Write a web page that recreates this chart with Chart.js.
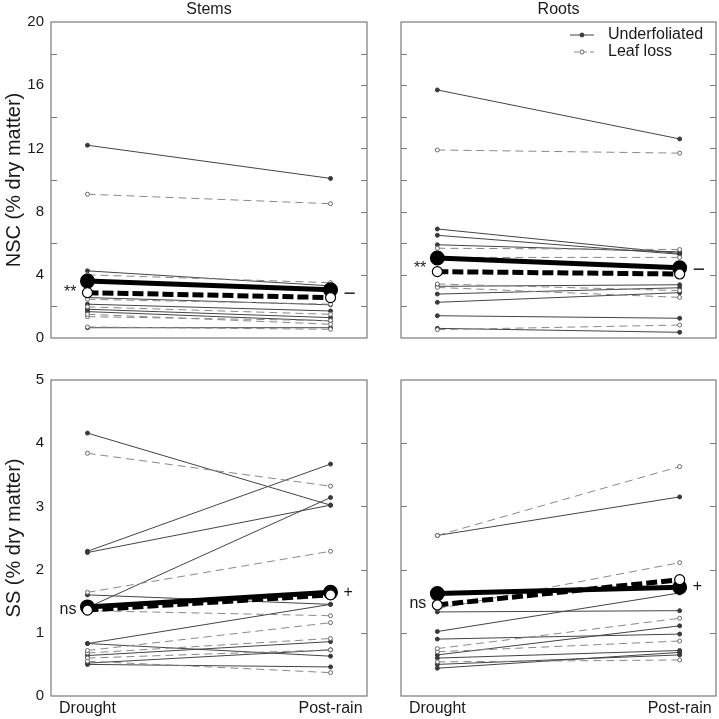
<!DOCTYPE html>
<html>
<head>
<meta charset="utf-8">
<script src="https://cdn.jsdelivr.net/npm/chart.js@4.4.1/dist/chart.umd.min.js"></script>
<style>
html, body { margin: 0; padding: 0; background: #fff; }
body { width: 719px; height: 719px; position: relative; overflow: hidden; }
.panel { position: absolute; }
</style>
</head>
<body>

<div class="panel" style="left:0;top:0;width:372px;height:346px"><canvas id="stemsNsc"></canvas></div>
<div class="panel" style="left:380px;top:0;width:339px;height:346px"><canvas id="rootsNsc"></canvas></div>
<div class="panel" style="left:0;top:360px;width:372px;height:359px"><canvas id="stemsSs"></canvas></div>
<div class="panel" style="left:380px;top:360px;width:339px;height:359px"><canvas id="rootsSs"></canvas></div>

<script>

const xValues = [1, 2];
const xLabels = ["Drought", "Post-rain"];
const legendLabels = ["Underfoliated", "Leaf loss"];

const nscTicks = [0, 4, 8, 12, 16, 20];
const ssTicks = [0, 1, 2, 3, 4, 5];

// stems, NSC (% dry matter) - one [drought, post-rain] pair per tree
const stemsNscUnder = [[12.2, 10.1], [4.25, 3.3], [2.56, 2.1], [2.14, 1.71], [1.82, 1.29], [1.67, 1.08], [0.65, 0.65]];
const stemsNscLoss = [[9.1, 8.5], [4.0, 3.5], [2.45, 2.14], [1.97, 1.5], [1.5, 0.87], [1.35, 1.1], [0.7, 0.55]];
const stemsNscMeanUnder = [3.6, 3.05];
const stemsNscMeanLoss = [2.87, 2.56];

// roots, NSC
const rootsNscUnder = [[15.7, 12.6], [6.9, 5.35], [6.5, 5.3], [5.9, 5.45], [3.27, 3.37], [2.78, 3.18], [2.26, 2.87], [1.41, 1.25], [0.61, 0.36]];
const rootsNscLoss = [[11.9, 11.7], [5.68, 5.6], [5.1, 5.1], [3.42, 3.0], [3.2, 2.57], [0.53, 0.82]];
const rootsNscMeanUnder = [5.06, 4.45];
const rootsNscMeanLoss = [4.2, 4.05];

// stems, SS
const stemsSsUnder = [[4.16, 3.02], [2.29, 3.67], [2.27, 3.02], [1.4, 3.14], [1.6, 1.45], [0.83, 1.45], [0.83, 0.63], [0.64, 0.86], [0.52, 0.73], [0.5, 0.46]];
const stemsSsLoss = [[3.84, 3.32], [1.64, 2.29], [1.35, 1.27], [0.72, 1.16], [0.68, 0.91], [0.55, 0.37], [0.6, 0.73]];
const stemsSsMeanUnder = [1.41, 1.64];
const stemsSsMeanLoss = [1.36, 1.6];

// roots, SS
const rootsSsUnder = [[2.54, 3.15], [1.33, 1.35], [1.02, 1.63], [0.9, 0.98], [0.65, 1.11], [0.6, 0.72], [0.5, 0.65], [0.44, 0.69]];
const rootsSsLoss = [[2.54, 3.63], [1.38, 2.11], [0.75, 1.23], [0.7, 0.87], [0.54, 0.57]];
const rootsSsMeanUnder = [1.62, 1.72];
const rootsSsMeanLoss = [1.44, 1.84];

// significance labels: [drought side, post-rain side]
const stemsNscSig = ["**", "\u2212"];
const rootsNscSig = ["**", "\u2212"];
const stemsSsSig = ["ns", "+"];
const rootsSsSig = ["ns", "+"];


const fontFamily = "'Liberation Sans', Arial, Helvetica, sans-serif";
const textColor = "#1a1a1a";

Chart.defaults.font.family = fontFamily;
Chart.defaults.color = textColor;

const underStyle = { color: "#444", dash: [], fill: "#3a3a3a" };
const lossStyle = { color: "#888", dash: [8, 5], fill: "#ffffff" };


function toPoints(pair) {

    return pair.map((v, i) => ({ x: xValues[i], y: v }));

}

function thinSet(pair, style) {

    return {
        data: toPoints(pair),
        borderColor: style.color,
        borderWidth: 1,
        borderDash: style.dash,
        pointRadius: 2,
        pointBackgroundColor: style.fill,
        pointBorderColor: style === lossStyle ? "#666" : style.fill,
        pointBorderWidth: 1,
        tension: 0
    };

}

function makeDatasets(under, loss, meanUnder, meanLoss) {

    const sets = [];

    // means first so they are drawn on top
    sets.push({
        data: toPoints(meanLoss),
        borderColor: "#000",
        borderWidth: 5,
        borderDash: [11, 4],
        pointRadius: 5,
        pointBackgroundColor: "#fff",
        pointBorderColor: "#000",
        pointBorderWidth: 1.2,
        tension: 0
    });

    sets.push({
        data: toPoints(meanUnder),
        borderColor: "#000",
        borderWidth: 5,
        pointRadius: 5,
        pointBackgroundColor: "#000",
        pointBorderColor: "#000",
        tension: 0
    });

    loss.forEach(pair => sets.push(thinSet(pair, lossStyle)));
    under.forEach(pair => sets.push(thinSet(pair, underStyle)));

    return sets;

}


const framePlugin = {

    id: "frame",

    afterDatasetsDraw(chart, args, opts) {

        const { ctx, chartArea: a, scales } = chart;
        const x = scales.x;
        const y = scales.y;

        ctx.save();

        // box and inward ticks
        ctx.strokeStyle = "#7b7b7b";
        ctx.lineWidth = 1.2;
        ctx.strokeRect(a.left, a.top, a.right - a.left, a.bottom - a.top);

        ctx.beginPath();
        (opts.leftTicks || []).forEach(v => {
            const py = Math.round(y.getPixelForValue(v)) + 0.5;
            ctx.moveTo(a.left, py);
            ctx.lineTo(a.left + 6, py);
        });
        (opts.rightTicks || []).forEach(v => {
            const py = Math.round(y.getPixelForValue(v)) + 0.5;
            ctx.moveTo(a.right, py);
            ctx.lineTo(a.right - 6, py);
        });
        ctx.stroke();

        // significance labels
        ctx.fillStyle = textColor;
        ctx.textBaseline = "middle";

        const sig = opts.sig;
        if (sig) {
            ctx.font = "16px " + fontFamily;
            ctx.textAlign = "right";
            ctx.fillText(sig.text[0], x.getPixelForValue(xValues[0]) - 11, y.getPixelForValue(sig.at[0]));
            ctx.textAlign = "left";
            ctx.font = (sig.text[1] === "+" ? "16px " : "21px ") + fontFamily;
            ctx.fillText(sig.text[1], x.getPixelForValue(xValues[1]) + 13, y.getPixelForValue(sig.at[1]));
        }

        // legend
        if (opts.legend) {

            const x0 = a.right - 146;
            const x1 = a.right - 122;

            ctx.font = "16px " + fontFamily;

            [underStyle, lossStyle].forEach((st, i) => {

                const py = a.top + 13 + i * 17;

                ctx.strokeStyle = st.color;
                ctx.lineWidth = 1;
                ctx.setLineDash(i === 0 ? [] : [5, 3]);
                ctx.beginPath();
                ctx.moveTo(i === 0 ? x0 : x0 + 4, py);
                ctx.lineTo(x1, py);
                ctx.stroke();

                ctx.setLineDash([]);
                ctx.beginPath();
                ctx.arc((x0 + x1) / 2, py, 2, 0, Math.PI * 2);
                ctx.fillStyle = st.fill;
                ctx.fill();
                ctx.strokeStyle = i === 0 ? st.fill : "#666";
                ctx.stroke();

                ctx.fillStyle = textColor;
                ctx.textAlign = "left";
                ctx.fillText(legendLabels[i], a.right - 108, py);

            });

        }

        ctx.restore();

    }

};


function makeChart(id, cfg) {

    return new Chart(document.getElementById(id), {

        type: "line",

        data: {
            datasets: makeDatasets(cfg.under, cfg.loss, cfg.meanUnder, cfg.meanLoss)
        },

        options: {

            responsive: true,
            maintainAspectRatio: false,
            animation: false,
            events: [],

            layout: {
                autoPadding: false,
                padding: cfg.padding
            },

            plugins: {

                legend: { display: false },
                tooltip: { enabled: false },

                title: {
                    display: !!cfg.title,
                    text: cfg.title || "",
                    fullSize: false,
                    color: textColor,
                    font: { size: 16, weight: "normal" },
                    padding: { top: 0, bottom: 2.8 }
                },

                frame: {
                    leftTicks: cfg.leftTicks,
                    rightTicks: cfg.rightTicks,
                    sig: cfg.sig,
                    legend: cfg.legend
                }

            },

            scales: {

                x: {
                    type: "linear",
                    min: 0.85,
                    max: 2.15,
                    display: cfg.showX,
                    afterBuildTicks: s => { s.ticks = xValues.map(v => ({ value: v })); },
                    afterFit: s => {
                        s.height = cfg.showX ? 23 : 0;
                        s.paddingLeft = 0;
                        s.paddingRight = 0;
                    },
                    ticks: {
                        callback: v => xLabels[xValues.indexOf(v)],
                        font: { size: 16 },
                        color: textColor,
                        padding: 3,
                        maxRotation: 0,
                        autoSkip: false
                    },
                    grid: { display: false, drawTicks: false },
                    border: { display: false }
                },

                y: {
                    type: "linear",
                    min: cfg.yTicks[0],
                    max: cfg.yTicks[cfg.yTicks.length - 1],
                    display: cfg.showY,
                    afterBuildTicks: s => { s.ticks = cfg.yTicks.map(v => ({ value: v })); },
                    afterFit: s => {
                        s.width = cfg.showY ? 51 : 0;
                        s.paddingTop = 0;
                        s.paddingBottom = 0;
                    },
                    ticks: {
                        font: { size: 15 },
                        color: textColor,
                        padding: 7
                    },
                    title: {
                        display: !!cfg.yTitle,
                        text: cfg.yTitle || "",
                        color: textColor,
                        font: { size: 20 },
                        padding: { top: 2, bottom: 0 }
                    },
                    grid: { display: false, drawTicks: false },
                    border: { display: false }
                }

            }

        },

        plugins: [framePlugin]

    });

}


makeChart("stemsNsc", {
    title: "Stems",
    under: stemsNscUnder, loss: stemsNscLoss, meanUnder: stemsNscMeanUnder, meanLoss: stemsNscMeanLoss,
    yTicks: nscTicks, yTitle: "NSC (% dry matter)",
    showX: false, showY: true,
    padding: { left: 0, right: 5, top: 0, bottom: 8 },
    leftTicks: [2, 6, 10, 14, 18],
    rightTicks: [2, 4, 6, 8, 10, 12, 14, 16, 18],
    sig: { text: stemsNscSig, at: [stemsNscMeanLoss[0], 2.8] }
});

makeChart("rootsNsc", {
    title: "Roots",
    under: rootsNscUnder, loss: rootsNscLoss, meanUnder: rootsNscMeanUnder, meanLoss: rootsNscMeanLoss,
    yTicks: nscTicks,
    showX: false, showY: false,
    padding: { left: 21, right: 3, top: 0, bottom: 8 },
    leftTicks: [2, 4, 6, 8, 10, 12, 14, 16, 18],
    rightTicks: [2, 4, 6, 8, 10, 12, 14, 16, 18],
    sig: { text: rootsNscSig, at: [4.37, 4.3] },
    legend: true
});

makeChart("stemsSs", {
    under: stemsSsUnder, loss: stemsSsLoss, meanUnder: stemsSsMeanUnder, meanLoss: stemsSsMeanLoss,
    yTicks: ssTicks, yTitle: "SS (% dry matter)",
    showX: true, showY: true,
    padding: { left: 0, right: 5, top: 20, bottom: 0 },
    leftTicks: [],
    rightTicks: [1, 2, 3, 4],
    sig: { text: stemsSsSig, at: [1.36, 1.63] }
});

makeChart("rootsSs", {
    under: rootsSsUnder, loss: rootsSsLoss, meanUnder: rootsSsMeanUnder, meanLoss: rootsSsMeanLoss,
    yTicks: ssTicks,
    showX: true, showY: false,
    padding: { left: 21, right: 3, top: 20, bottom: 0 },
    leftTicks: [1, 2, 3, 4],
    rightTicks: [1, 2, 3, 4],
    sig: { text: rootsSsSig, at: [1.47, 1.73] }
});

</script>
</body>
</html>
